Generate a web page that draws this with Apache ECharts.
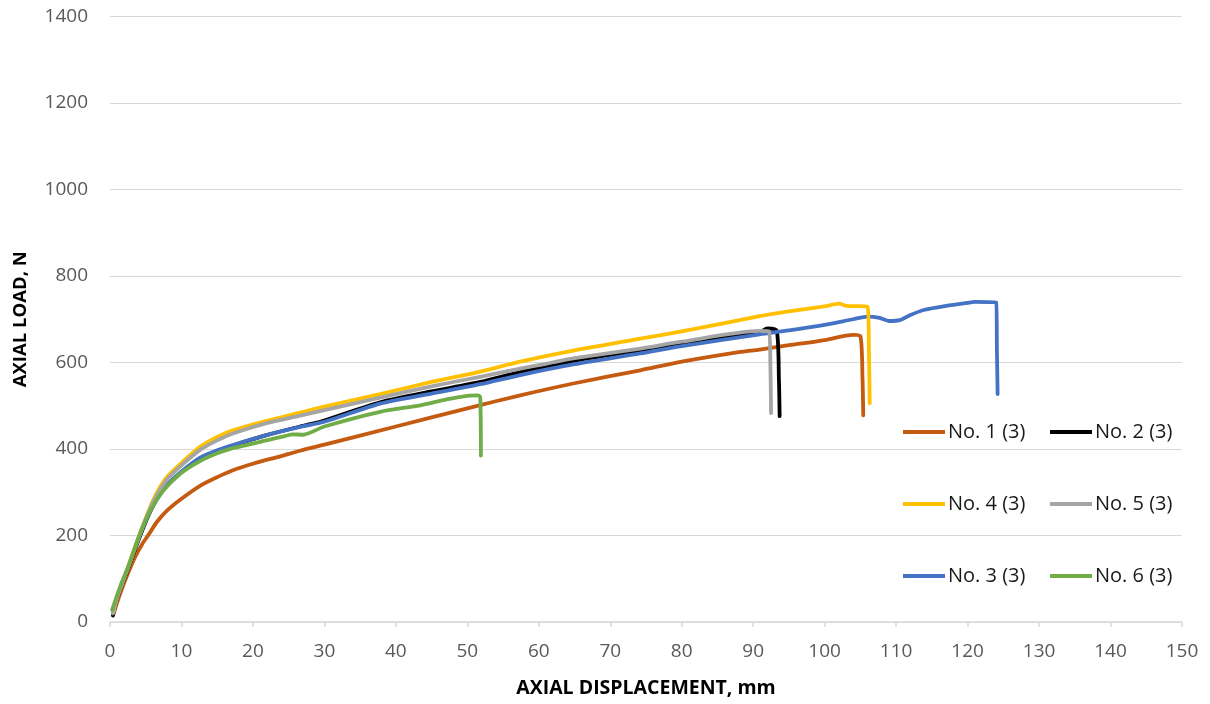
<!DOCTYPE html>
<html>
<head>
<meta charset="utf-8">
<script src="https://cdn.jsdelivr.net/npm/echarts@6/dist/echarts.min.js"></script>
<style>
html,body{margin:0;padding:0;background:#fff;}
#chart{width:1210px;height:704px;}
</style>
</head>
<body>
<div id="chart"></div>
<script>
// ---- data ----
var seriesNames = ['No. 1 (3)', 'No. 2 (3)', 'No. 3 (3)', 'No. 4 (3)', 'No. 5 (3)', 'No. 6 (3)'];
var xTickInterval = 10;
var yTickInterval = 200;

var no1 = [[0.5,18],[1,45],[1.6,74],[2.5,112],[3.5,150],[4.5,180],[5.4,202],[6.5,230],[8,258],[10,285],[12.6,315],[15,335],[17.2,351],[20,366],[23.8,383],[26.6,396],[30,410],[40,452],[50,494],[57.4,524],[65,552],[74.2,582],[80,602],[88,624],[90.9,630],[95,640],[100,652],[104,664],[105,661],[105.3,560],[105.4,478]];
var no2 = [[0.4,15],[1,55],[2,100],[3,145],[4,190],[5,232],[6,268],[7,295],[8,316],[10,346],[12.6,378],[15,395],[17.2,408],[21.9,432],[26.6,452],[30,466],[37.8,508],[45,533],[51.8,555],[57.4,578],[65,604],[74.2,628],[80,645],[85,656],[90.9,670],[92,679],[93.3,673],[93.6,560],[93.7,476]];
var no3 = [[0.4,20],[1,58],[2,103],[3,148],[4,193],[5,234],[6,268],[7,296],[8,318],[10,348],[12.6,380],[15,397],[17.2,409],[21.9,432],[26.6,451],[30,463],[37.8,505],[45,528],[51.8,550],[57.4,571],[65,596],[74.2,621],[80,638],[90.9,665],[95,674],[100,687],[104,700],[106,706],[107.7,703],[109,696],[110.5,698],[112,710],[114,722],[117,731],[120,738],[121,740],[124,739],[124.1,630],[124.2,527]];
var no4 = [[0.5,22],[1,58],[2,103],[3,150],[4,197],[5,240],[6,280],[7,312],[8,336],[10,368],[12.6,405],[15,428],[17.2,443],[21.9,465],[26.6,484],[30,498],[37.8,527],[45,555],[51.8,579],[57.4,602],[65,628],[74.2,655],[80,672],[90.9,707],[95,718],[100,730],[102,736],[103,731],[106,729],[106.2,620],[106.3,506]];
var no5 = [[0.4,20],[1,56],[2,102],[3,148],[4,195],[5,238],[6,276],[7,306],[8,330],[10,362],[12.6,398],[15,420],[17.2,436],[21.9,460],[26.6,477],[30,490],[37.8,519],[45,545],[51.8,567],[57.4,586],[61,597],[63,604],[65,610],[74.2,632],[80,648],[90.9,673],[92.2,672],[92.4,600],[92.5,483]];
var no6 = [[0.3,28],[1,62],[1.6,90],[2.5,125],[3,148],[4,195],[5,236],[6,268],[7,294],[8,314],[10,345],[12.6,372],[15,390],[17.2,402],[21.9,420],[24.5,430],[25.6,434],[27,433],[30,452],[37.8,486],[43.4,501],[47.1,515],[50,523],[51.5,524],[51.8,520],[51.9,385]];

var seriesData = [no1, no2, no3, no4, no5, no6];
var colors = ['#C55A11', '#000000', '#4472C4', '#FFC000', '#A5A5A5', '#70AD47'];

// ---- chart ----
var chart = echarts.init(document.getElementById('chart'), null, {renderer: 'canvas'});
var font = '"Open Sans", "Liberation Sans", sans-serif';

var series = seriesNames.map(function (n, i) {
  return {
    name: n,
    type: 'line',
    data: seriesData[i],
    showSymbol: false,
    symbol: 'none',
    smooth: 0.25,
    lineStyle: {color: colors[i], width: 3.8, join: 'round', cap: 'round'},
    itemStyle: {color: colors[i]},
    z: 2 + i,
    animation: false
  };
});

// legend layout: 3 rows x 2 columns
var legendOrder = [['No. 1 (3)', 'No. 2 (3)'], ['No. 4 (3)', 'No. 5 (3)'], ['No. 3 (3)', 'No. 6 (3)']];
var rowTops = [422, 494, 566];
var colLefts = [903, 1050];
var legends = [];
legendOrder.forEach(function (row, r) {
  row.forEach(function (name, c) {
    legends.push({
      data: [name],
      left: colLefts[c],
      top: rowTops[r],
      icon: 'rect',
      itemWidth: 42,
      itemHeight: 4,
      itemGap: 0,
      padding: 0,
      selectedMode: false,
      textStyle: {fontFamily: font, fontSize: 20, color: '#1a1a1a', padding: [0, 0, 0, -2]}
    });
  });
});

chart.setOption({
  backgroundColor: '#ffffff',
  animation: false,
  color: colors,
  legend: legends,
  grid: {left: 110, right: 28, top: 16.5, bottom: 82, containLabel: false},
  xAxis: {
    type: 'value',
    min: 0,
    max: 150,
    interval: xTickInterval,
    name: 'AXIAL DISPLACEMENT, mm',
    nameLocation: 'middle',
    nameGap: 56,
    nameTextStyle: {fontFamily: font, fontSize: 19.5, fontWeight: 'bold', color: '#000'},
    axisLine: {show: true, lineStyle: {color: '#d9d9d9', width: 1.5}},
    axisTick: {show: true, length: 5, lineStyle: {color: '#d9d9d9', width: 1.5}},
    axisLabel: {fontFamily: font, fontSize: 19, color: '#595959', margin: 20},
    splitLine: {show: false}
  },
  yAxis: {
    type: 'value',
    min: 0,
    max: 1400,
    interval: yTickInterval,
    name: 'AXIAL LOAD, N',
    nameLocation: 'middle',
    nameGap: 80,
    nameTextStyle: {fontFamily: font, fontSize: 18.5, fontWeight: 'bold', color: '#000'},
    axisLine: {show: false},
    axisTick: {show: false},
    axisLabel: {fontFamily: font, fontSize: 19, color: '#595959', margin: 22,
      formatter: function (v) { return String(v); }},
    splitLine: {show: true, lineStyle: {color: '#d9d9d9', width: 1.2}}
  },
  series: series
});
</script>
</body>
</html>
